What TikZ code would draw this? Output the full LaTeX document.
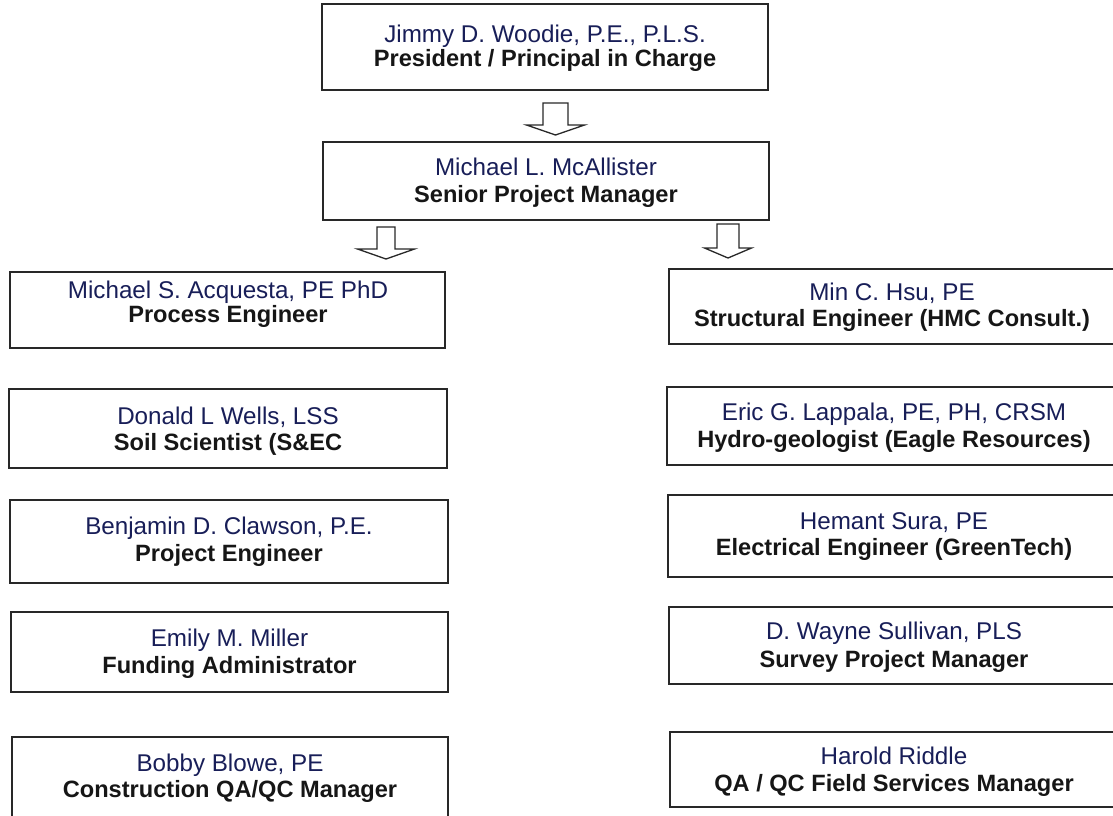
\documentclass[tikz,border=0pt]{standalone}
\usepackage{fontspec}
\setmainfont{Liberation Sans}
\definecolor{navy}{RGB}{24,30,88}
\definecolor{ink}{RGB}{22,22,22}
\definecolor{boxgray}{RGB}{40,40,40}
\newcommand\hollowdown[6]{% cx, shaft half, head half, top, base, tip
  \draw[arrowline] (#1-#2,#4) -- (#1+#2,#4) -- (#1+#2,#5) -- (#1+#3,#5)
    -- (#1,#6) -- (#1-#3,#5) -- (#1-#2,#5) -- cycle;}
\begin{document}
\begin{tikzpicture}[x=1pt,y=-1pt,
  orgbox/.style={draw=boxgray, line width=1.5pt, rectangle, inner sep=0pt, fill=none},
  nm/.style={anchor=base, inner sep=0pt, text=navy, font=\fontsize{24.2}{28}\selectfont},
  rl/.style={anchor=base, inner sep=0pt, text=ink, font=\fontsize{23.6}{28}\selectfont\bfseries},
  arrowline/.style={draw=boxgray, line width=1.3pt, line join=miter, fill=white}]
\useasboundingbox (0,0) rectangle (1113,815);
\clip (0,0) rectangle (1113,815);
\fill[white] (0,0) rectangle (1113,815);

% boxes
\node[orgbox, minimum width=446pt, minimum height=86pt] (top) at (545,47) {};
\node[orgbox, minimum width=446pt, minimum height=78pt] (mgr) at (546,181) {};
\node[orgbox, minimum width=435pt, minimum height=76pt] (l1) at (227.5,310) {};
\node[orgbox, minimum width=438pt, minimum height=79pt] (l2) at (228,428.5) {};
\node[orgbox, minimum width=438pt, minimum height=83pt] (l3) at (229,541.5) {};
\node[orgbox, minimum width=437pt, minimum height=80pt] (l4) at (229.5,652) {};
\node[orgbox, minimum width=436pt, minimum height=83pt] (l5) at (230,778.5) {};
\node[orgbox, minimum width=451pt, minimum height=75pt] (r1) at (894.5,306.5) {};
\node[orgbox, minimum width=453pt, minimum height=78pt] (r2) at (893.5,426) {};
\node[orgbox, minimum width=452pt, minimum height=82pt] (r3) at (894,536) {};
\node[orgbox, minimum width=451pt, minimum height=77pt] (r4) at (894.5,645.5) {};
\node[orgbox, minimum width=450pt, minimum height=75pt] (r5) at (895,769.5) {};

% texts
\node[nm] (topn) at (545,42) {Jimmy D. Woodie, P.E., P.L.S.};
\node[rl] (topr) at (545,66) {President / Principal in Charge};
\node[nm] (mgrn) at (546,175) {Michael L. McAllister};
\node[rl] (mgrr) at (546,202) {Senior Project Manager};
\node[nm] (l1n) at (228,298) {Michael S. Acquesta, PE PhD};
\node[rl] (l1r) at (228,322) {Process Engineer};
\node[nm] (l2n) at (228,424) {Donald L Wells, LSS};
\node[rl] (l2r) at (228,450) {Soil Scientist (S\&EC};
\node[nm] (l3n) at (229,534) {Benjamin D. Clawson, P.E.};
\node[rl] (l3r) at (229,561) {Project Engineer};
\node[nm] (l4n) at (229.5,646) {Emily M. Miller};
\node[rl] (l4r) at (229.5,673) {Funding Administrator};
\node[nm] (l5n) at (230,771) {Bobby Blowe, PE};
\node[rl] (l5r) at (230,797) {Construction QA/QC Manager};
\node[nm] (r1n) at (892,300) {Min C. Hsu, PE};
\node[rl] (r1r) at (892,326) {Structural Engineer (HMC Consult.)};
\node[nm] (r2n) at (894,420) {Eric G. Lappala, PE, PH, CRSM};
\node[rl] (r2r) at (894,447) {Hydro-geologist (Eagle Resources)};
\node[nm] (r3n) at (894,529) {Hemant Sura, PE};
\node[rl] (r3r) at (894,555) {Electrical Engineer (GreenTech)};
\node[nm] (r4n) at (894,639) {D. Wayne Sullivan, PLS};
\node[rl] (r4r) at (894,667) {Survey Project Manager};
\node[nm] (r5n) at (894,764) {Harold Riddle};
\node[rl] (r5r) at (894,791) {QA / QC Field Services Manager};

% hollow block arrows
\hollowdown{555.5}{12.5}{29}{103}{125}{135}
\hollowdown{386}{9}{28.5}{227}{249}{259}
\hollowdown{728}{11}{23.5}{224}{248}{258}
\end{tikzpicture}
\end{document}
